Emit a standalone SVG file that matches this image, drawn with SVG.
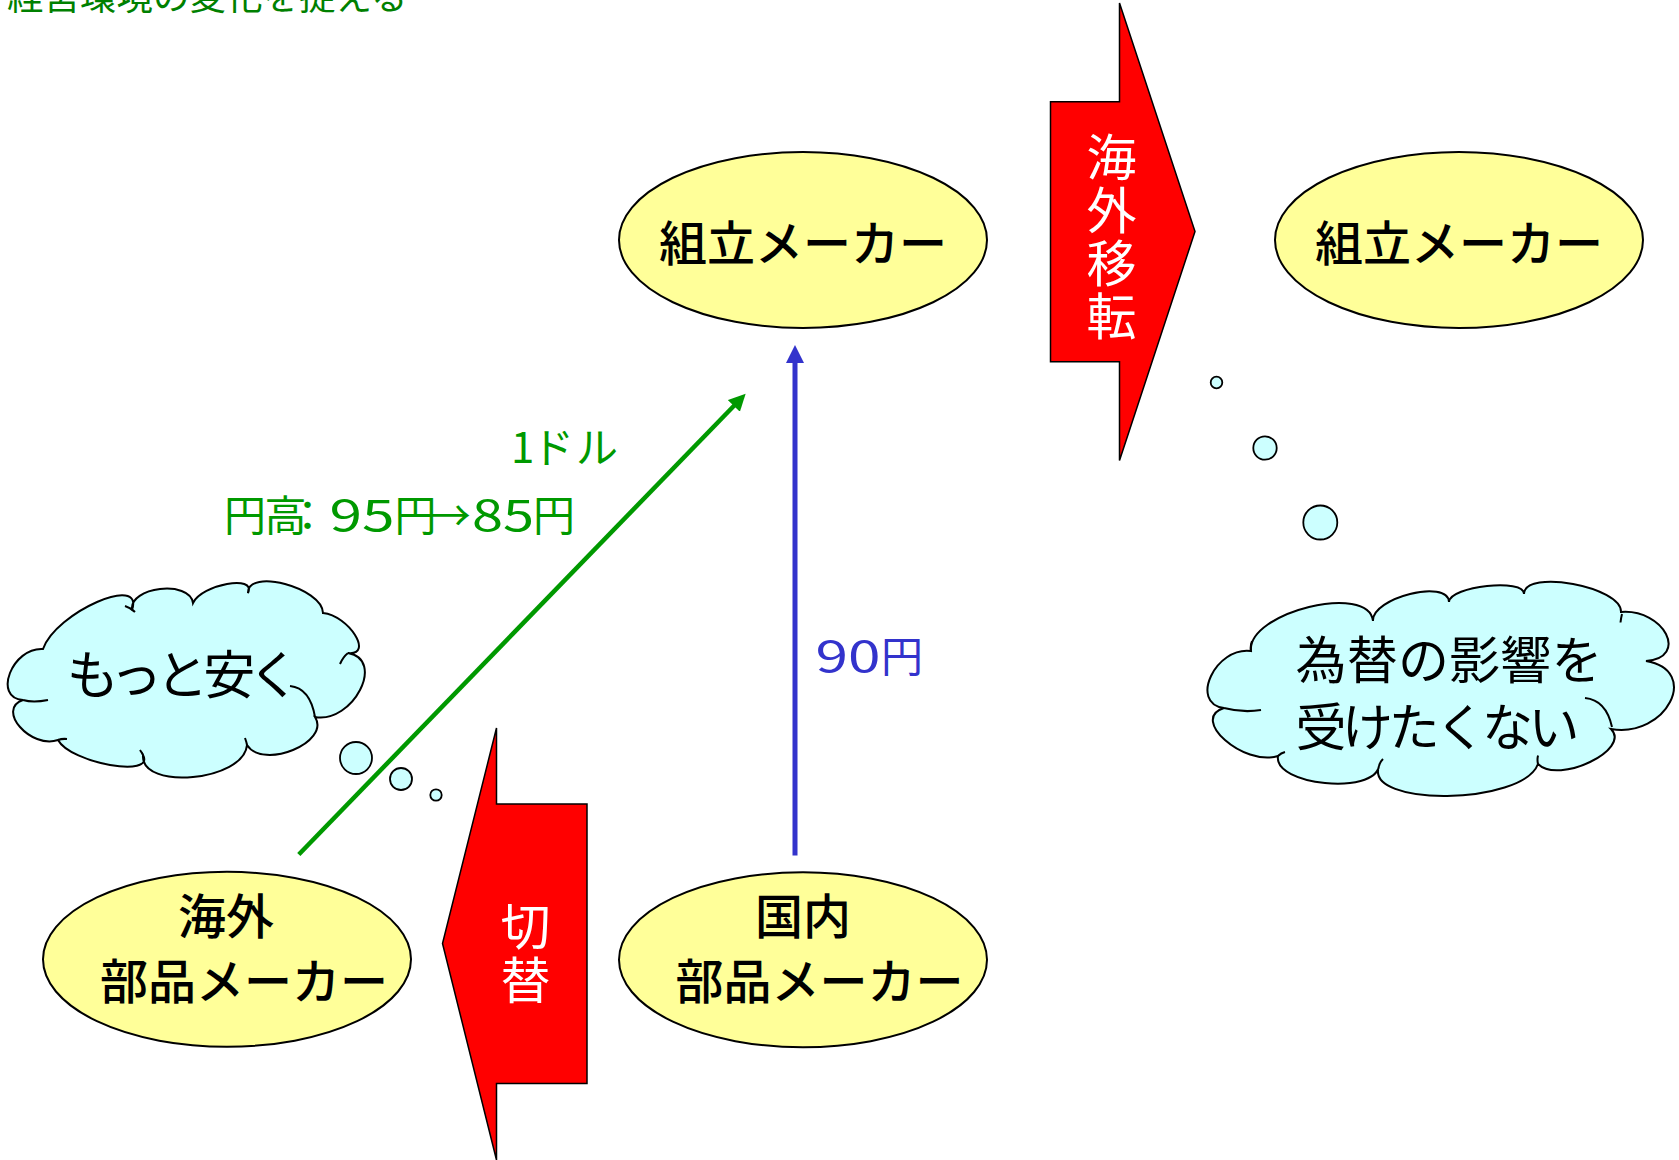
<svg xmlns="http://www.w3.org/2000/svg" width="1679" height="1160" viewBox="0 0 1679 1160">
<style>
.t{font-family:"Noto Sans CJK JP","Noto Sans CJK SC",sans-serif}
.node ellipse{fill:#FFFF99;stroke:#000;stroke-width:2}
.node text{font-size:48px;font-weight:500;fill:#000;text-anchor:middle}
.block polygon{fill:#FF0000;stroke:#000;stroke-width:1.5}
.block text{font-size:50px;fill:#FFFFFF}
.cloud .body{fill:#CCFFFF;stroke:#000;stroke-width:2}
.cloud .inner{fill:none;stroke:#000;stroke-width:2}
.cloud circle{fill:#CCFFFF;stroke:#000;stroke-width:1.8}
.cloud text{fill:#000}
.lblG{font-size:42px;fill:#009900}
.lblB{font-size:42px;fill:#3333CC}
.palt{font-feature-settings:"palt" 1}
</style>
<defs>
<marker id="ahG" markerUnits="userSpaceOnUse" markerWidth="18" markerHeight="18" refX="1" refY="8.5" orient="auto"><path d="M0,0 L17,8.5 L0,17 Z" fill="#009900"/></marker>
<marker id="ahB" markerUnits="userSpaceOnUse" markerWidth="19" markerHeight="19" refX="1" refY="9" orient="auto"><path d="M0,0 L18,9 L0,18 Z" fill="#3333CC"/></marker>
</defs>
<rect x="0" y="0" width="1679" height="1160" fill="#FFFFFF"/>

<g id="title"><text class="t" x="7" y="9.5" font-size="36.5" fill="#008000">経営環境の変化を捉える</text></g>

<g id="connectors">
<line x1="298.8" y1="854.5" x2="734.5" y2="405.2" stroke="#009900" stroke-width="4.5" marker-end="url(#ahG)"/>
<line x1="795" y1="855.5" x2="795" y2="362" stroke="#3333CC" stroke-width="5" marker-end="url(#ahB)"/>
<text class="t lblG" x="511 532 576" y="463">1ドル</text>
<text class="t lblG" x="224 264.5 286.5" y="531">円高：<tspan x="329.5" textLength="65" lengthAdjust="spacingAndGlyphs">95</tspan><tspan x="394.5 428.7">円→</tspan><tspan x="472" textLength="62" lengthAdjust="spacingAndGlyphs">85</tspan><tspan x="533">円</tspan></text>
<text class="t lblB" x="815.5" y="671.5"><tspan textLength="65" lengthAdjust="spacingAndGlyphs">90</tspan><tspan x="881">円</tspan></text>
</g>

<g id="node-assembler" class="node t">
<ellipse cx="803" cy="240" rx="184" ry="88"/>
<text x="803" y="261">組立メーカー</text>
</g>
<g id="node-assembler-overseas" class="node t">
<ellipse cx="1459" cy="240" rx="184" ry="88"/>
<text x="1459" y="261">組立メーカー</text>
</g>
<g id="node-overseas-parts" class="node t">
<ellipse cx="227" cy="959.3" rx="184" ry="87.5"/>
<text x="226" y="934">海外</text>
<text x="244" y="998.5">部品メーカー</text>
</g>
<g id="node-domestic-parts" class="node t">
<ellipse cx="803" cy="959.8" rx="184" ry="87.5"/>
<text x="803" y="934">国内</text>
<text x="819.5" y="998.5">部品メーカー</text>
</g>

<g id="arrow-relocate" class="block t">
<polygon points="1050.5,101.7 1119.5,101.7 1119.5,3 1195,231.5 1119.5,460.5 1119.5,361.7 1050.5,361.7"/>
<text x="1111.5" y="131.5" writing-mode="tb" letter-spacing="3.3">海外移転</text>
</g>

<g id="arrow-switch" class="block t">
<polygon points="587,804 496.5,804 496.5,728 442.5,943.5 496.5,1160 496.5,1083.5 587,1083.5"/>
<text x="525.5" y="900.5" writing-mode="tb" letter-spacing="4">切替</text>
</g>

<g id="thought-left" class="cloud t">
<path class="body" d="M23,700 C-7.7,698 12.3,647 43,649 C55.7,612.3 144.7,573.3 132,610 C128.7,586.7 189.7,579.7 193,603 C201.7,584.3 256.7,574.3 248,593 C247.3,567.7 322.3,587.7 323,613 C349,615.7 374,655.7 348,653 C386,659.7 353,723.7 315,717 C331,742.3 263,770.3 247,745 C244.3,781 140.3,791 143,755 C155.7,778.3 70.7,763.3 58,740 C30.7,749.3 -4.3,709.3 23,700 Z"/>
<path class="inner" d="M290,686 Q310,688 315,717 M23,700 Q33,703 48,700 M125,606 Q131,608 135,612 M58,740 Q62,738.5 67,739 M348,653 Q343,657 340,664 M245,738 Q246.5,742 247,745 M140,750 Q142,753 143,755"/>
<text class="palt" x="179" y="694" font-size="52" text-anchor="middle">もっと安く</text>
<circle cx="356" cy="758" r="16"/>
<circle cx="401" cy="779" r="11"/>
<circle cx="436" cy="795" r="5.7"/>
</g>

<g id="thought-right" class="cloud t">
<path class="body" d="M1224,708 C1188.7,703.3 1215.7,646.3 1251,651 C1247,612.3 1369,582.3 1373,621 C1371.7,597.7 1447.7,578.7 1449,602 C1449.7,586 1524.7,578 1524,594 C1524.7,568.7 1621.7,586.7 1621,612 C1664.3,608.7 1689.3,657.7 1646,661 C1701.3,670.3 1666.3,738.3 1611,729 C1631.7,749.7 1558.7,784.7 1538,764 C1522.7,805.3 1363.7,807.3 1379,766 C1374.3,795.3 1273.3,785.3 1278,756 C1243.3,766.7 1189.3,718.7 1224,708 Z"/>
<path class="inner" d="M1585,698 Q1606,700 1612,727 M1224,708 Q1243,713 1261,710 M1622,614 Q1621,618 1620.5,622.5 M1538,764 Q1537,760 1538,755.5 M1379,766 Q1380,762 1383,759 M1278,756 Q1281,753 1285,752 M1251,651 Q1250,646 1252,641"/>
<text x="1295.5" y="679" font-size="51" textLength="307" lengthAdjust="spacing">為替の影響を</text>
<text x="1295.5" y="746" font-size="51" textLength="284" lengthAdjust="spacing">受けたくない</text>
<circle cx="1216.5" cy="382.5" r="5.8"/>
<circle cx="1265" cy="448" r="11.7"/>
<circle cx="1320.3" cy="522.5" r="17"/>
</g>
</svg>
